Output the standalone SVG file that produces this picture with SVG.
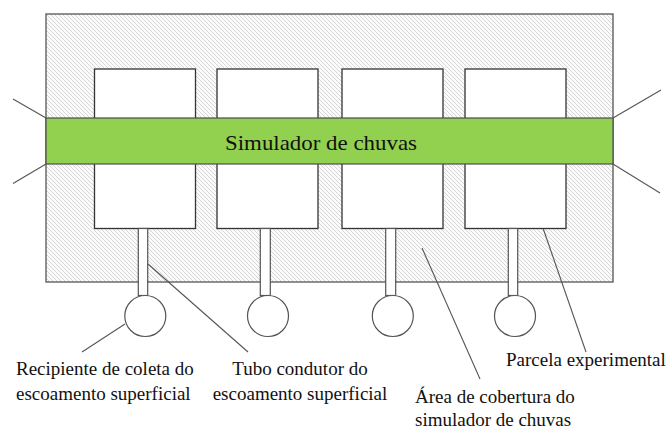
<svg xmlns="http://www.w3.org/2000/svg" width="671" height="429" viewBox="0 0 671 429">
<defs>
<pattern id="hatch" width="4" height="4" patternUnits="userSpaceOnUse">
<rect width="4" height="4" fill="#fbfbfb"/>
<path d="M-1,-1 L5,5 M-1,3 L1,5 M3,-1 L5,1" stroke="#cdcdcd" stroke-width="0.8"/>
</pattern>
</defs>
<style>
.area{fill:url(#hatch);stroke:#555;stroke-width:1.3}
.parcel{fill:#fff;stroke:#333;stroke-width:1.3}
.band{fill:#92d050;stroke:#4d4d4d;stroke-width:1.2}
.tube{fill:#fff;stroke:#555;stroke-width:1.2}
.bucket{fill:#fff;stroke:#555;stroke-width:1.2}
.lead{stroke:#555;stroke-width:1.1;fill:none}
text{font-family:"Liberation Serif","Times New Roman",serif;fill:#111}
.lbl{font-size:19px}
</style>
<g id="coverage-area">
<rect class="area" x="46" y="14" width="567" height="268"/>
</g>
<g id="parcels">
<rect id="parcel-1" class="parcel" x="94.5" y="69" width="101" height="159.5"/>
<rect id="parcel-2" class="parcel" x="217" y="69" width="101" height="159.5"/>
<rect id="parcel-3" class="parcel" x="342" y="69" width="101" height="159.5"/>
<rect id="parcel-4" class="parcel" x="465" y="69" width="101" height="159.5"/>
</g>
<g id="rain-simulator">
<rect class="band" x="46" y="118" width="567" height="46"/>
<text x="321" y="150" font-size="22" text-anchor="middle" textLength="192" lengthAdjust="spacingAndGlyphs">Simulador de chuvas</text>
</g>
<g id="tubes">
<rect class="tube" x="138.3" y="228.5" width="9.4" height="67"/>
<rect class="tube" x="260.3" y="228.5" width="10" height="67"/>
<rect class="tube" x="385.7" y="228.5" width="10" height="67"/>
<rect class="tube" x="508.3" y="228.5" width="9.4" height="67"/>
</g>
<g id="buckets">
<circle class="bucket" cx="145.3" cy="316" r="20.5"/>
<circle class="bucket" cx="268" cy="316" r="20.5"/>
<circle class="bucket" cx="392.8" cy="316" r="20.5"/>
<circle class="bucket" cx="515" cy="316" r="20.5"/>
</g>
<g id="connectors">
<line class="lead" x1="13" y1="99" x2="46" y2="118"/>
<line class="lead" x1="46" y1="164" x2="13" y2="183.5"/>
<line class="lead" x1="613" y1="118" x2="661" y2="90"/>
<line class="lead" x1="613" y1="164" x2="660" y2="193"/>
<line class="lead" x1="125" y1="324" x2="82" y2="352"/>
<line class="lead" x1="148" y1="264" x2="248" y2="352"/>
<line class="lead" x1="422" y1="248" x2="480" y2="379"/>
<line class="lead" x1="543.3" y1="229" x2="586" y2="352"/>
</g>
<g id="label-recipiente">
<text class="lbl" x="16" y="375">Recipiente de coleta do</text>
<text class="lbl" x="16" y="400">escoamento superficial</text>
</g>
<g id="label-tubo">
<text class="lbl" x="300" y="375" text-anchor="middle">Tubo condutor do</text>
<text class="lbl" x="300" y="400" text-anchor="middle">escoamento superficial</text>
</g>
<g id="label-area">
<text class="lbl" x="415" y="403">Área de cobertura do</text>
<text class="lbl" x="415" y="426">simulador de chuvas</text>
</g>
<g id="label-parcela">
<text class="lbl" x="506" y="366">Parcela experimental</text>
</g>
</svg>
